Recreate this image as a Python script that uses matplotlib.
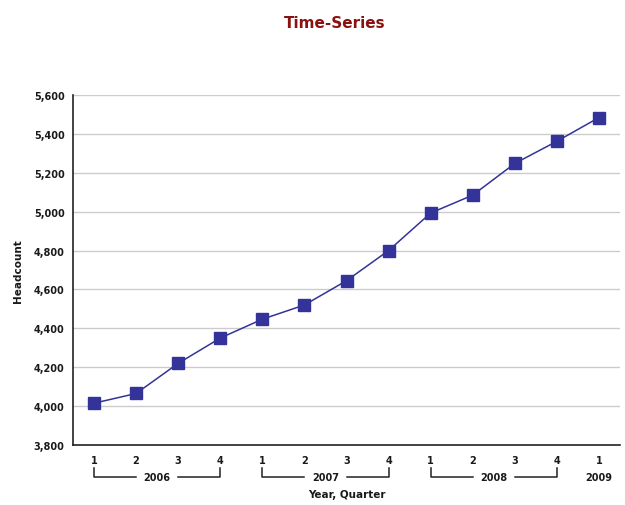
import matplotlib
matplotlib.use("Agg")
import matplotlib.pyplot as plt
import matplotlib.transforms as mtransforms
from matplotlib.ticker import FuncFormatter

# Quarterly headcount
years = ["2006", "2007", "2008", "2009"]
quarters = ["1", "2", "3", "4", "1", "2", "3", "4", "1", "2", "3", "4", "1"]
quarter_year = ["2006"] * 4 + ["2007"] * 4 + ["2008"] * 4 + ["2009"]
headcount = [4015, 4065, 4220, 4350, 4447, 4520, 4645, 4800, 4993, 5085, 5248, 5362, 5484]

y_ticks = [3800, 4000, 4200, 4400, 4600, 4800, 5000, 5200, 5400, 5600]

line_color = "#333399"
title_color = "#8B1010"
label_color = "#1a1a1a"

fig = plt.figure(figsize=(6.25, 5.06), dpi=100)
W, H = 625, 506
left, right, top, bottom = 73, 620, 96, 446
ax = fig.add_axes([left / W, 1 - bottom / H, (right - left) / W, (bottom - top) / H])

x = list(range(len(headcount)))
ax.plot(x, headcount, color=line_color, lw=1.1, marker="s", markersize=8.5,
        markerfacecolor=line_color, markeredgecolor=line_color, zorder=3)

ax.set_xlim(-0.5, len(headcount) - 0.5)
ax.set_ylim(y_ticks[0], y_ticks[-1])
ax.set_yticks(y_ticks)
ax.yaxis.set_major_formatter(FuncFormatter(lambda v, p: f"{int(v):,}"))
ax.yaxis.grid(True, color="#cccccc", lw=1.0)
ax.set_axisbelow(True)
ax.tick_params(axis="y", length=0, pad=6, labelsize=7, labelcolor=label_color)
for t in ax.get_yticklabels():
    t.set_fontweight("bold")
ax.set_xticks([])

for s in ["top", "right"]:
    ax.spines[s].set_visible(False)
for s in ["left", "bottom"]:
    ax.spines[s].set_color("#222222")
    ax.spines[s].set_linewidth(1.2)

trans = mtransforms.blended_transform_factory(ax.transData, ax.transAxes)
ph = bottom - top

def fy(ypix):
    return (bottom - ypix) / ph

# Quarter labels
for xi, q in zip(x, quarters):
    ax.text(xi, fy(461), q, transform=trans, ha="center", va="center",
            fontsize=7, fontweight="bold", color=label_color)

# Year brackets
for yr in years:
    idx = [i for i, y in enumerate(quarter_year) if y == yr]
    x0, x1 = idx[0], idx[-1]
    xm = (x0 + x1) / 2
    if len(idx) > 1:
        gap = 0.5
        yb, yt = fy(478), fy(469)
        ax.plot([x0, x0, xm - gap], [yt, yb, yb], transform=trans, color="#222222",
                lw=1.1, clip_on=False)
        ax.plot([xm + gap, x1, x1], [yb, yb, yt], transform=trans, color="#222222",
                lw=1.1, clip_on=False)
    ax.text(xm, fy(478), yr, transform=trans, ha="center", va="center",
            fontsize=7, fontweight="bold", color=label_color)

ax.text(0.5, fy(495), "Year, Quarter", transform=ax.transAxes, ha="center",
        va="center", fontsize=7.5, fontweight="bold", color=label_color)
fig.text(18 / W, 1 - 271 / H, "Headcount", rotation=90, ha="center", va="center",
         fontsize=7.5, fontweight="bold", color=label_color)
fig.text(335 / W, 1 - 24 / H, "Time-Series", ha="center", va="center",
         fontsize=11, fontweight="bold", color=title_color)

fig.savefig("out.png", dpi=100)
